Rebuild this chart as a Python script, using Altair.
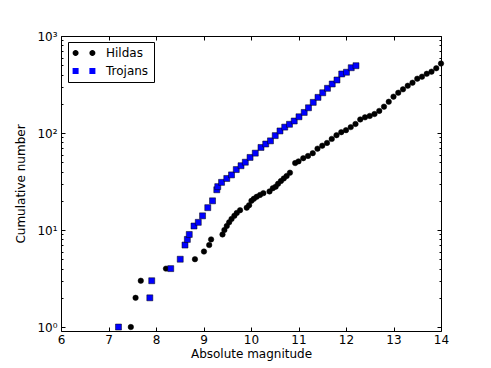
import altair as alt
import pandas as pd

# Hildas: absolute magnitude vs cumulative number
hildas_H = [7.47, 7.57, 7.68, 8.21, 8.82, 9.01, 9.12, 9.16, 9.40, 9.44, 9.49, 9.54, 9.59,
            9.65, 9.70, 9.77, 9.91, 9.96, 10.01, 10.06, 10.12, 10.19, 10.26, 10.39, 10.46,
            10.52, 10.57, 10.63, 10.69, 10.75, 10.82, 10.93, 11.0, 11.1, 11.2, 11.3, 11.4,
            11.5, 11.6, 11.7, 11.8, 11.9, 12.0, 12.1, 12.2, 12.3, 12.4, 12.5, 12.6, 12.7,
            12.8, 12.9, 13.0, 13.1, 13.2, 13.3, 13.4, 13.5, 13.6, 13.7, 13.8, 13.9, 14.0]
hildas_N = [1, 2, 3, 4, 5, 6, 7, 8, 9, 10, 11, 12, 13,
            14, 15, 16, 17, 18, 20, 21, 22, 23, 24, 25, 27,
            28, 30, 32, 34, 36, 39, 49, 51, 55, 58, 62, 69,
            74, 79, 87, 95, 102, 107, 115, 124, 138, 145, 150, 157, 169,
            187, 210, 237, 260, 282, 307, 330, 363, 381, 408, 429, 465, 520]

# Trojans
trojans_H = [7.21, 7.87, 7.91, 8.31, 8.51, 8.61, 8.66, 8.70, 8.80, 8.89, 8.98, 9.09, 9.19,
             9.28, 9.30, 9.38, 9.49, 9.59, 9.69, 9.79, 9.88, 9.98, 10.09, 10.21, 10.31,
             10.41, 10.51, 10.61, 10.71, 10.81, 10.91, 11.01, 11.12, 11.21, 11.31, 11.41,
             11.51, 11.61, 11.71, 11.81, 11.91, 12.01, 12.11, 12.21]
trojans_N = [1, 2, 3, 4, 5, 7, 8, 9, 11, 12, 14, 17, 20,
             26, 28, 31, 34, 37, 42, 46, 50, 56, 62, 71, 77,
             83, 94, 105, 115, 123, 133, 147, 163, 182, 207, 233,
             260, 289, 320, 352, 406, 423, 471, 494]

series_names = ["Hildas", "Trojans"]
series_colors = ["#000000", "#0000ff"]
x_ticks = [6, 7, 8, 9, 10, 11, 12, 13, 14]
y_major = [1, 10, 100, 1000]
y_minor = [m * 10 ** k for k in range(3) for m in range(2, 10)]

df = pd.DataFrame({
    "H": hildas_H + trojans_H,
    "N": hildas_N + trojans_N,
    "series": ["Hildas"] * len(hildas_H) + ["Trojans"] * len(trojans_H),
})

W, Hh = 380, 295
xscale = alt.Scale(domain=[6, 14], nice=False, zero=False)
yscale = alt.Scale(type="log", domain=[0.91, 1000], nice=False)

two_circles = ("M -1.9 0 A 0.5 0.5 0 1 0 -0.9 0 A 0.5 0.5 0 1 0 -1.9 0 Z "
               "M 0.9 0 A 0.5 0.5 0 1 0 1.9 0 A 0.5 0.5 0 1 0 0.9 0 Z")
two_squares = ("M -1.9 -0.5 L -0.9 -0.5 L -0.9 0.5 L -1.9 0.5 Z "
               "M 0.9 -0.5 L 1.9 -0.5 L 1.9 0.5 L 0.9 0.5 Z")

ylabel_expr = ("datum.value == 1 ? '10⁰' : datum.value == 10 ? '10¹' : "
               "datum.value == 100 ? '10²' : '10³'")

main = alt.Chart(df).mark_point(filled=True, opacity=1, stroke="black", strokeWidth=0.5).encode(
    x=alt.X("H:Q", scale=xscale, axis=alt.Axis(
        orient="bottom", values=x_ticks, tickSize=0, labelPadding=3, domain=False,
        grid=False, title="Absolute magnitude", titlePadding=3, format="d",
        labelFlush=False, labelOverlap=False)),
    y=alt.Y("N:Q", scale=yscale, axis=alt.Axis(
        orient="left", values=y_major, tickSize=0, labelPadding=4, domain=False,
        grid=False, labelExpr=ylabel_expr, title="Cumulative number", titlePadding=9,
        labelFlush=False, labelOverlap=False)),
    color=alt.Color("series:N", scale=alt.Scale(domain=series_names, range=series_colors), legend=None),
    shape=alt.Shape("series:N", scale=alt.Scale(domain=series_names, range=["circle", "square"]), legend=None),
    size=alt.Size("series:N", scale=alt.Scale(domain=series_names, range=[30, 36]), legend=None),
)

def tick_axis(orient, offset, values, size):
    return alt.Axis(orient=orient, offset=offset, values=values, tickSize=size, labels=False,
                    domain=False, grid=False, title=None, tickColor="black", tickWidth=1)

ticksB = alt.Chart(df).mark_point(filled=True, opacity=0).encode(
    x=alt.X("H:Q", scale=xscale, axis=tick_axis("top", -Hh, x_ticks, 4)),
    y=alt.Y("N:Q", scale=yscale, axis=tick_axis("right", -W, y_major, 4)),
    color=alt.Color("series:N", scale=alt.Scale(domain=series_names, range=series_colors),
                    legend=alt.Legend(title=None)),
    shape=alt.Shape("series:N", scale=alt.Scale(domain=series_names, range=[two_circles, two_squares]),
                    legend=alt.Legend(title=None)),
)

ticksC = alt.Chart(df).mark_point(opacity=0).encode(
    x=alt.X("H:Q", scale=xscale, axis=tick_axis("bottom", -Hh, x_ticks, 4)),
    y=alt.Y("N:Q", scale=yscale, axis=tick_axis("left", -W, y_major, 4)),
)

ticksD = alt.Chart(df).mark_point(opacity=0).encode(
    x=alt.X("H:Q", scale=xscale, axis=None),
    y=alt.Y("N:Q", scale=yscale, axis=tick_axis("right", -W, y_minor, 2)),
)

ticksE = alt.Chart(df).mark_point(opacity=0).encode(
    x=alt.X("H:Q", scale=xscale, axis=None),
    y=alt.Y("N:Q", scale=yscale, axis=tick_axis("left", -W, y_minor, 2)),
)

chart = alt.layer(main, ticksB, ticksC, ticksD, ticksE).resolve_axis(
    x="independent", y="independent"
).resolve_scale(
    color="independent", shape="independent"
).properties(
    width=W, height=Hh,
    autosize=alt.AutoSizeParams(type="none"),
    padding={"left": 53, "top": 28, "right": 40, "bottom": 31},
).configure_view(
    stroke="black", strokeWidth=1
).configure_axis(
    labelFont="DejaVu Sans", titleFont="DejaVu Sans", labelFontSize=12, titleFontSize=12,
    labelColor="black", titleColor="black", titleFontWeight="normal",
).configure_legend(
    orient="none", legendX=7, legendY=6, strokeColor="black", fillColor="white",
    padding=5, cornerRadius=0, symbolSize=144, symbolStrokeWidth=0, symbolOpacity=1,
    symbolOffset=5, labelOffset=16, rowPadding=6,
    labelFont="DejaVu Sans", labelFontSize=12, labelColor="black",
)

chart.save("out.html", embed_options={"renderer": "svg", "actions": False})
